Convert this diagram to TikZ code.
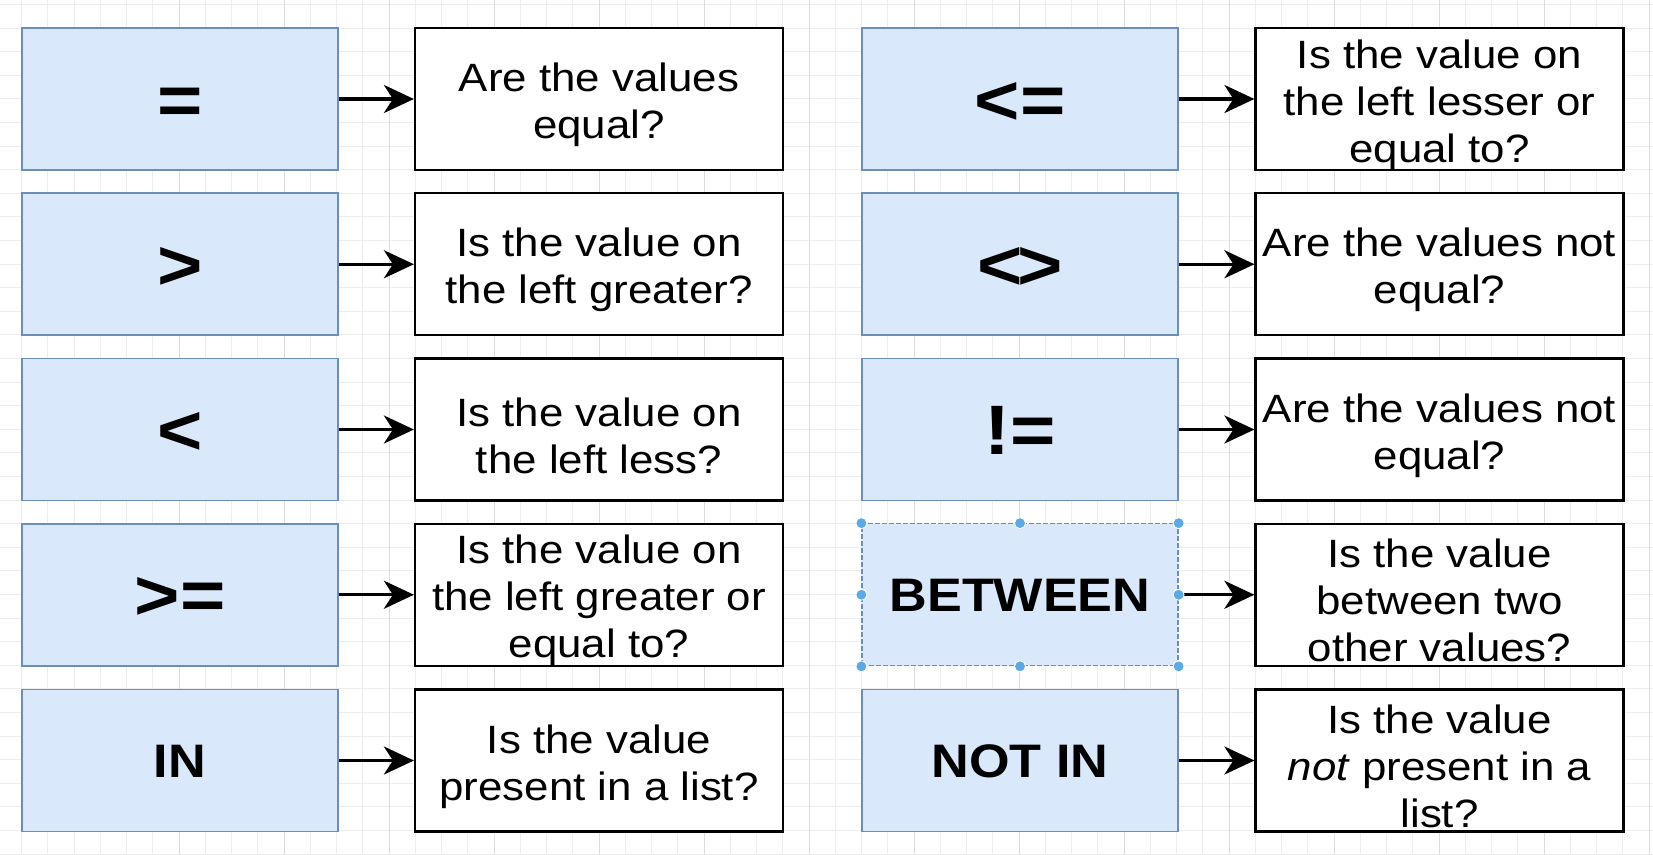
\documentclass[tikz,border=0pt]{standalone}
\usepackage{fontspec}
\setmainfont[FakeStretch=1.11]{Liberation Sans}
\usetikzlibrary{arrows.meta}
\definecolor{opfill}{HTML}{DAE8FC}
\definecolor{opline}{HTML}{6C8EBF}
\definecolor{gridc}{HTML}{EDEDED}
\definecolor{gridm}{HTML}{DCDCDC}
\definecolor{handle}{HTML}{5DA9E3}
\tikzset{
  opbox/.style={draw=opline, line width=1.8pt, fill=opfill, minimum width=316pt, minimum height=142pt, inner sep=0pt,
    font=\fontsize{47}{56}\selectfont\bfseries, text height=33.7pt, text depth=0pt},
  symbox/.style={opbox, font=\fontsize{70}{84}\selectfont\bfseries, text height=50pt, text depth=0pt},
  qbox/.style={draw=black, line width=2.2pt, fill=white, minimum width=368pt, minimum height=142pt, inner sep=0pt},
  qtext/.style={align=center, inner sep=0pt, font=\fontsize{39.5}{47}\selectfont},
  link/.style={line width=3.4pt, -{Stealth[length=30pt,width=28pt,inset=9pt]}},
  selhandle/.style={circle, fill=handle, draw=white, line width=0.8pt, inner sep=0pt, minimum size=11pt}
}
\begin{document}
\begin{tikzpicture}[x=1pt,y=-1pt]
\useasboundingbox (0,0) rectangle (1653,854);
\fill[white] (0,0) rectangle (1653,854);
% background grid
\foreach \i in {0,...,62} {
  \draw[gridc, line width=0.9pt] ({21.5+26.25*\i},0) -- ({21.5+26.25*\i},854);
}
\foreach \j in {0,...,36} {
  \draw[gridc, line width=0.9pt] (0,{4.5+23.6*\j}) -- (1653,{4.5+23.6*\j});
}
\foreach \i in {0,...,15} {
  \draw[gridm, line width=1pt] ({179+105*\i},0) -- ({179+105*\i},854);
}
% left column
\node[symbox] (eq) at (180,99) {=};
\node[symbox] (gt) at (180,264.25) {>};
\node[symbox] (lt) at (180,429.5) {<};
\node[symbox] (ge) at (180,594.75) {>=};
\node[opbox] (in) at (180,760.5) {IN};
\node[qbox] (qeq) at (599,99) {};
\node[qbox] (qgt) at (599,264.25) {};
\node[qbox] (qlt) at (599,429.5) {};
\node[qbox] (qge) at (599,594.75) {};
\node[qbox] (qin) at (599,760.5) {};
\node[qtext] (teq) at ([yshift=-6pt]qeq.center) {Are the values\\equal?};
\node[qtext] (tgt) at ([yshift=-6pt]qgt.center) {Is the value on\\the left greater?};
\node[qtext] (tlt) at ([yshift=-6pt]qlt.center) {Is the value on\\the left less?};
\node[qtext] (tge) at ([yshift=-6pt]qge.center) {Is the value on\\the left greater or\\equal to?};
\node[qtext] (tin) at ([yshift=-6pt]qin.center) {Is the value\\present in a list?};
% right column
\node[symbox] (le) at (1020,99) {<=};
\node[symbox] (ne) at (1020,264.25) {<\kern-0.07em>};
\node[symbox] (bne) at (1020,429.5) {!=};
\node[opbox, dashed, dash pattern=on 5pt off 2pt, line width=1.2pt] (btw) at (1020,594.75) {BETWEEN};
\node[opbox] (nin) at (1020,760.5) {NOT IN};
\node[qbox] (qle) at (1439.5,99) {};
\node[qbox] (qne) at (1439.5,264.25) {};
\node[qbox] (qbne) at (1439.5,429.5) {};
\node[qbox] (qbtw) at (1439.5,594.75) {};
\node[qbox] (qnin) at (1439.5,760.5) {};
\node[qtext] (tle) at ([yshift=-6pt]qle.center) {Is the value on\\the left lesser or\\equal to?};
\node[qtext] (tne) at ([yshift=-6pt]qne.center) {Are the values not\\equal?};
\node[qtext] (tbne) at ([yshift=-6pt]qbne.center) {Are the values not\\equal?};
\node[qtext] (tbtw) at ([yshift=-6pt]qbtw.center) {Is the value\\between two\\other values?};
\node[qtext] (tnin) at ([yshift=-6pt]qnin.center) {Is the value\\\textit{not} present in a\\list?};
% connectors
\foreach \a/\b in {eq/qeq, gt/qgt, lt/qlt, ge/qge, in/qin, le/qle, ne/qne, bne/qbne, btw/qbtw, nin/qnin} {
  \draw[link] (\a.east) -- (\b.west);
}
% selection handles on BETWEEN
\foreach \p in {north west, north, north east, west, east, south west, south, south east} {
  \node[selhandle] at (btw.\p) {};
}
\end{tikzpicture}
\end{document}
